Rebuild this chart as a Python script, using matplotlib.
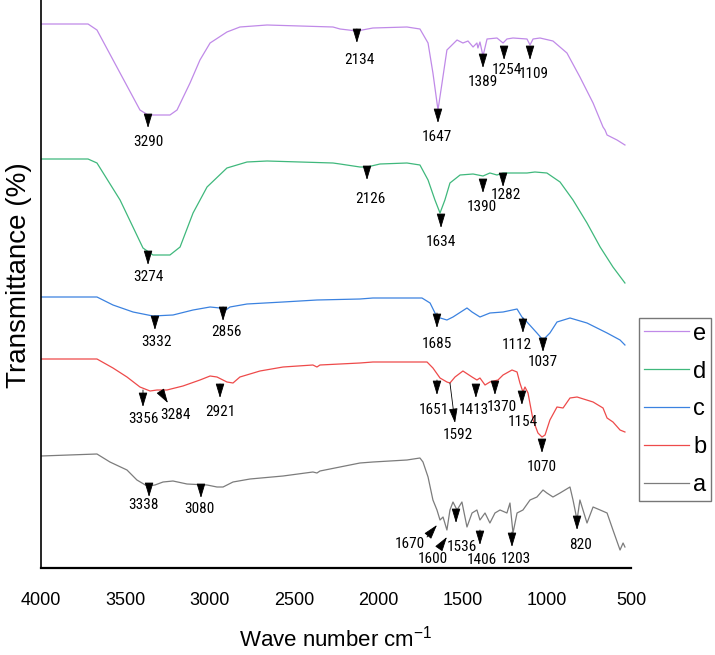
import matplotlib
matplotlib.use("Agg")
import matplotlib.pyplot as plt
from matplotlib import font_manager

# FTIR spectra, wave number (cm-1) and stacked transmittance (arbitrary offset units)
wn_e = [4000, 3721, 3668, 3531, 3413, 3365, 3235, 3193, 3116, 3057, 2997, 2897, 2820, 2659, 2268,
        2226, 2126, 2031, 1829, 1752, 1704, 1675, 1645, 1621, 1592, 1532, 1497, 1467, 1437, 1414,
        1408, 1396, 1378, 1354, 1295, 1259, 1236, 1200, 1117, 1099, 1081, 1040, 963, 880, 803,
        725, 666, 654, 642, 583, 536]
t_e = [544, 544, 538, 495, 458, 453, 453, 458, 485, 508, 525, 536, 541, 543, 541,
       539, 537, 540, 541, 539, 525, 495, 458, 485, 518, 528, 525, 527, 521, 525,
       520, 526, 512, 529, 530, 525, 529, 530, 529, 523, 529, 530, 527, 515, 491,
       465, 441, 438, 433, 428, 423]

wn_d = [4000, 3721, 3668, 3531, 3395, 3336, 3235, 3175, 3098, 3015, 2897, 2778, 2659, 2268, 2226,
        2108, 2066, 1989, 1829, 1752, 1704, 1663, 1633, 1604, 1574, 1514, 1437, 1378, 1337, 1295,
        1259, 1200, 1117, 1070, 999, 921, 844, 761, 683, 607, 536]
t_d = [409, 409, 405, 368, 320, 313, 313, 321, 355, 381, 400, 406, 407, 405, 404,
       401, 401, 404, 405, 403, 388, 368, 355, 368, 385, 393, 394, 392, 395, 393,
       395, 395, 395, 396, 395, 386, 368, 345, 321, 301, 285]

wn_c = [4000, 3668, 3573, 3454, 3336, 3217, 3098, 2997, 2938, 2920, 2879, 2778, 2564, 2363, 2108,
        2031, 1740, 1692, 1651, 1592, 1556, 1473, 1443, 1396, 1337, 1259, 1176, 1147, 1117, 1058,
        1022, 981, 939, 862, 761, 642, 565, 536]
t_c = [271, 271, 263, 256, 252, 253, 258, 261, 260, 256, 261, 264, 266, 268, 269,
       270, 270, 265, 251, 248, 251, 260, 256, 251, 255, 256, 259, 251, 246, 235,
       228, 235, 246, 250, 245, 235, 228, 223]

wn_b = [4000, 3668, 3573, 3490, 3413, 3353, 3312, 3253, 3158, 3057, 2997, 2956, 2897, 2861, 2820,
        2701, 2564, 2387, 2363, 2345, 2108, 2031, 1710, 1675, 1633, 1592, 1574, 1544, 1497, 1443,
        1414, 1396, 1366, 1337, 1289, 1259, 1206, 1176, 1159, 1141, 1129, 1111, 1081, 1052, 1028,
        1010, 981, 939, 903, 862, 820, 725, 666, 642, 607, 565, 536]
t_b = [209, 209, 200, 191, 181, 177, 178, 178, 182, 188, 192, 191, 186, 185, 191,
       197, 201, 203, 201, 203, 205, 206, 206, 200, 190, 186, 185, 191, 197, 191,
       188, 190, 183, 186, 188, 193, 198, 196, 185, 176, 181, 175, 148, 135, 131,
       133, 148, 161, 160, 170, 171, 166, 160, 150, 146, 138, 136]

wn_a = [4000, 3668, 3591, 3490, 3431, 3371, 3324, 3276, 3217, 3134, 3015, 2956, 2920, 2861, 2760,
        2564, 2387, 2363, 2345, 2108, 2031, 1829, 1752, 1734, 1704, 1675, 1651, 1633, 1615, 1592,
        1574, 1556, 1532, 1503, 1473, 1443, 1414, 1396, 1366, 1337, 1307, 1277, 1236, 1218, 1200,
        1176, 1141, 1099, 1058, 1022, 999, 963, 921, 862, 844, 820, 803, 761, 725, 683,
        642, 607, 565, 547, 536]
t_a = [112, 114, 106, 98, 88, 82, 83, 86, 87, 84, 83, 81, 81, 86, 89,
       92, 96, 95, 97, 105, 106, 108, 110, 106, 91, 68, 58, 48, 51, 38,
       58, 66, 58, 66, 41, 55, 58, 48, 55, 45, 55, 58, 55, 65, 35,
       55, 58, 68, 71, 78, 75, 71, 75, 81, 68, 48, 68, 45, 61, 58,
       55, 38, 18, 25, 21]

sample_names = ["e", "d", "c", "b", "a"]
x_ticks = [4000, 3500, 3000, 2500, 2000, 1500, 1000, 500]

# peak labels: text, arrow tail (wn, y), arrow tip (wn, y), label (wn, top y)
peak_marks = [
    ("3290", (3365, 453), (3365, 440), (3365, 433)),
    ("2134", (2126, 539), (2126, 525), (2108, 515)),
    ("1647", (1645, 458), (1645, 445), (1651, 438)),
    ("1389", (1378, 513), (1378, 500), (1378, 493)),
    ("1254", (1253, 521), (1253, 508), (1236, 505)),
    ("1109", (1099, 521), (1099, 508), (1076, 501)),
    ("3274", (3365, 316), (3365, 303), (3365, 298)),
    ("2126", (2066, 401), (2066, 388), (2048, 376)),
    ("1634", (1627, 353), (1627, 340), (1627, 333)),
    ("1390", (1378, 388), (1378, 375), (1384, 368)),
    ("1282", (1259, 394), (1259, 381), (1242, 380)),
    ("3332", (3324, 252), (3324, 238), (3312, 233)),
    ("2856", (2920, 261), (2920, 247), (2897, 243)),
    ("1685", (1651, 255), (1651, 240), (1651, 231)),
    ("1112", (1141, 250), (1141, 235), (1176, 230)),
    ("1037", (1022, 230), (1022, 216), (1022, 213)),
    ("3356", (3395, 178), (3395, 161), (3389, 156)),
    ("3284", (3288, 176), (3247, 165), (3205, 160)),
    ("2921", (2938, 184), (2938, 170), (2938, 163)),
    ("1651", (1651, 188), (1651, 173), (1669, 165)),
    ("1592", (1574, 185), (1544, 145), (1526, 140)),
    ("1413", (1420, 183), (1420, 170), (1432, 165)),
    ("1370", (1307, 186), (1307, 173), (1265, 168)),
    ("1154", (1147, 176), (1147, 163), (1141, 153)),
    ("1070", (1028, 128), (1028, 115), (1028, 108)),
    ("3338", (3359, 84), (3359, 71), (3389, 70)),
    ("3080", (3051, 83), (3051, 70), (3063, 66)),
    ("1670", (1710, 31), (1651, 43), (1811, 31)),
    ("1600", (1633, 21), (1592, 31), (1675, 16)),
    ("1536", (1538, 58), (1538, 45), (1503, 28)),
    ("1406", (1396, 38), (1396, 23), (1384, 15)),
    ("1203", (1206, 36), (1206, 21), (1182, 16)),
    ("820", (820, 51), (820, 38), (797, 30)),
]


def pick_font(names):
    for n in names:
        try:
            font_manager.findfont(n, fallback_to_default=False)
            return n
        except Exception:
            pass
    return "DejaVu Sans"


def narrow_props(size):
    # look for a condensed sans face; fall back to the regular one
    wanted = ["Liberation Sans Narrow", "Arial Narrow", "Roboto Condensed",
              "Open Sans Condensed", "DejaVu Sans Condensed"]
    fonts = font_manager.fontManager.ttflist
    for w in wanted:
        for f in fonts:
            if f.name == w and f.style == "normal" and f.weight in (400, "normal", "regular"):
                return font_manager.FontProperties(fname=f.fname, size=size)
    for f in fonts:
        st = str(f.stretch)
        if ("ondensed" in st or "arrow" in f.name or "ondensed" in f.fname) \
                and f.style == "normal" and f.weight in (400, "normal", "regular") \
                and "Mono" not in f.name and "Serif" not in f.name:
            return font_manager.FontProperties(fname=f.fname, size=size)
    return font_manager.FontProperties(family=main_font, size=size - 1)


main_font = pick_font(["Liberation Sans", "Arial"])
plt.rcParams["font.family"] = [main_font, "DejaVu Sans"]
label_props = narrow_props(11)

colors = {"e": "#c08ae8", "d": "#3fb87c", "c": "#3b82e0", "b": "#ee4a4a", "a": "#7c7c7c"}
data = {"e": (wn_e, t_e), "d": (wn_d, t_d), "c": (wn_c, t_c), "b": (wn_b, t_b), "a": (wn_a, t_a)}

fig = plt.figure(figsize=(7.15, 6.55), dpi=100)
ax = fig.add_axes([41 / 715, 87 / 655, 590 / 715, 568 / 655])

handles = []
for name in sample_names:
    x, y = data[name]
    ln, = ax.plot(x, y, color=colors[name], lw=0.9, label=name)
    handles.append(ln)

for text, tail, tip, lab in peak_marks:
    ax.annotate("", xy=tip, xytext=tail,
                arrowprops=dict(arrowstyle="-|>,head_length=0.9,head_width=0.27",
                                color="black", lw=0.6, shrinkA=0, shrinkB=0))
    ax.text(lab[0], lab[1], text, ha="center", va="top", fontproperties=label_props)

ax.set_xlim(4000, 500)
ax.set_ylim(0, 568)
ax.set_xticks(x_ticks)
ax.set_yticks([])
ax.tick_params(axis="x", length=0, pad=17, labelsize=13)
ax.spines["top"].set_visible(False)
ax.spines["right"].set_visible(False)
ax.spines["bottom"].set_linewidth(1.6)
ax.spines["left"].set_linewidth(1.2)

ax.set_xlabel("Wave number cm$^{\\mathregular{-1}}$", fontsize=16, labelpad=12)
fig.text(19 / 715, 1 - 275 / 655, "Transmittance (%)", rotation=90,
         ha="center", va="center", fontsize=20)

leg = fig.legend(handles, sample_names, loc="upper left",
                 bbox_to_anchor=(639 / 715, 1 - 318 / 655), fontsize=17,
                 frameon=True, fancybox=False, edgecolor="#555555",
                 handlelength=1.9, handletextpad=0.2, borderpad=0.2,
                 labelspacing=0.67, borderaxespad=0)
leg.get_frame().set_linewidth(1.0)

fig.savefig("out.png", dpi=100)
